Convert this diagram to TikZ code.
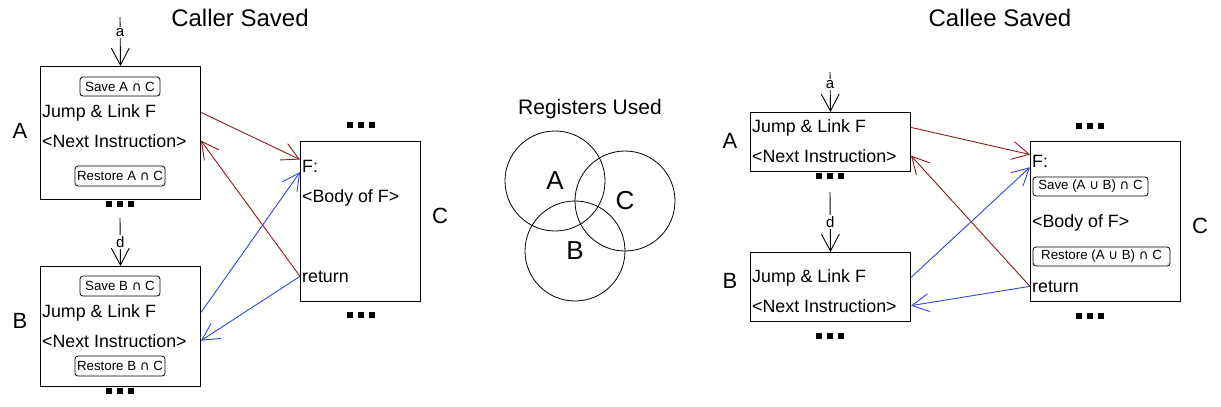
\documentclass[tikz,border=0pt]{standalone}
\usepackage{fontspec}
\setmainfont{Liberation Sans}
\newfontfamily\symfont{DejaVu Sans}
\usetikzlibrary{arrows.meta}

\definecolor{jalred}{HTML}{8B1A1A}
\definecolor{jalblue}{HTML}{2F46D8}

\newcommand{\blockdots}{\rule{6pt}{6pt}\hspace{5pt}\rule{6pt}{6pt}\hspace{5pt}\rule{6pt}{6pt}}
\newcommand{\capset}{{\symfont ∩}}
\newcommand{\cupset}{{\symfont ∪}}

\tikzset{
    codebox/.style={draw, line width=1pt, anchor=north west, inner sep=0},
    codeline/.style={anchor=base west, inner sep=0, font=\fontsize{17.8}{20}\selectfont},
    savetag/.style={draw, rounded corners=3pt, line width=0.8pt, inner sep=0,
        minimum height=19pt, font=\fontsize{13.3}{15}\selectfont},
    sidelabel/.style={anchor=base, inner sep=0, font=\fontsize{22}{24}\selectfont},
    heading/.style={anchor=base, inner sep=0, font=\fontsize{24}{28}\selectfont},
    morecode/.style={inner sep=0},
    flow/.style={line width=0.9pt, -{Straight Barb[length=17pt,width=18pt]}},
    edgelabel/.style={fill=white, inner sep=1.5pt, font=\fontsize{15}{17}\selectfont},
    regset/.style={circle, draw, line width=0.8pt, minimum size=100pt, inner sep=0,
        font=\fontsize{26}{28}\selectfont}
}

\begin{document}
\begin{tikzpicture}[x=1pt, y=-1pt]
    \useasboundingbox (0,0) rectangle (1221,407);

    % caller saved
    \node[heading] (caller) at (240,26) {Caller Saved};
    \node[codebox, minimum width=160pt, minimum height=133pt] (boxA1) at (40,66) {};
    \node[codebox, minimum width=160pt, minimum height=120pt] (boxB1) at (40,266) {};
    \node[codebox, minimum width=120pt, minimum height=160pt] (boxC1) at (300,141) {};

    \node[savetag, minimum width=80pt] (saveA1) at (120,86.5) {Save A \capset{} C};
    \node[codeline] (jumpA1) at (42,117) {Jump \& Link F};
    \node[codeline] (nextA1) at (42,147) {<Next Instruction>};
    \node[savetag, minimum width=90pt, minimum height=20pt] (restA1) at (120,176) {Restore A \capset{} C};

    \node[savetag, minimum width=80pt, minimum height=20pt] (saveB1) at (120,286) {Save B \capset{} C};
    \node[codeline] (jumpB1) at (42,317) {Jump \& Link F};
    \node[codeline] (nextB1) at (42,347) {<Next Instruction>};
    \node[savetag, minimum width=90pt, minimum height=20pt] (restB1) at (120,366) {Restore B \capset{} C};

    \node[codeline] (fC1) at (302,172) {F:};
    \node[codeline] (bodyC1) at (302,202) {<Body of F>};
    \node[codeline] (retC1) at (302,282) {return};

    \node[sidelabel] (nameA1) at (20,138) {A};
    \node[sidelabel] (nameB1) at (20,328) {B};
    \node[sidelabel] (nameC1) at (440,223) {C};

    % registers used
    \node[heading, font=\fontsize{21}{24}\selectfont] (regs) at (590,114) {Registers Used};
    \node[regset] (setA) at (555,181) {A};
    \node[regset] (setC) at (625,201) {C};
    \node[regset] (setB) at (575,251) {B};

    % callee saved
    \node[heading] (callee) at (1000,26) {Callee Saved};
    \node[codebox, minimum width=160pt, minimum height=59pt] (boxA2) at (750,112) {};
    \node[codebox, minimum width=160pt, minimum height=69pt] (boxB2) at (750,252) {};
    \node[codebox, minimum width=150pt, minimum height=160pt] (boxC2) at (1030,141) {};

    \node[codeline] (jumpA2) at (752,132) {Jump \& Link F};
    \node[codeline] (nextA2) at (752,162) {<Next Instruction>};
    \node[codeline] (jumpB2) at (752,282) {Jump \& Link F};
    \node[codeline] (nextB2) at (752,312) {<Next Instruction>};

    \node[codeline] (fC2) at (1032,167) {F:};
    \node[savetag, minimum width=115pt] (saveC2) at (1090.5,186.5) {Save (A \cupset{} B) \capset{} C};
    \node[codeline] (bodyC2) at (1032,227) {<Body of F>};
    \node[savetag, minimum width=137pt] (restC2) at (1101.5,256.5) {Restore (A \cupset{} B) \capset{} C};
    \node[codeline] (retC2) at (1032,292) {return};

    \node[sidelabel] (nameA2) at (730,148) {A};
    \node[sidelabel] (nameB2) at (730,288) {B};
    \node[sidelabel] (nameC2) at (1200,233) {C};

    % more code above and below
    \foreach \n/\p in {dotsA1/{(120,204)}, dotsB1/{(120,391)}, dotsCt1/{(360.5,125)},
            dotsCb1/{(360.5,315)}, dotsA2/{(830,175.5)}, dotsB2/{(830,335.5)},
            dotsCt2/{(1090,126)}, dotsCb2/{(1090,316)}}
        \node[morecode] (\n) at \p {\blockdots};

    % incoming control flow
    \coordinate (inA1) at (120,17);
    \coordinate (inB1) at (120,218);
    \coordinate (inA2) at (830,72);
    \coordinate (inB2) at (830,192);
    \draw[flow] (inA1) -- node[edgelabel, pos=0.32] {a} (boxA1.north);
    \draw[flow] (inB1) -- node[edgelabel, pos=0.5] {d} (boxB1.north);
    \draw[flow] (inA2) -- node[edgelabel, pos=0.32] {a} (boxA2.north);
    \draw[flow] (inB2) -- node[edgelabel, pos=0.5] {d} (boxB2.north);

    % calls and returns
    \foreach \k in {1, 2} {
        \draw[flow, jalred] (boxA\k.east |- jumpA\k) -- (boxC\k.west |- fC\k.north);
        \draw[flow, jalred] (boxC\k.west |- retC\k) -- (boxA\k.east |- nextA\k);
        \draw[flow, jalblue] (boxB\k.east |- jumpB\k) -- (boxC\k.west |- fC\k.south);
        \draw[flow, jalblue] (boxC\k.west |- retC\k) -- (boxB\k.east |- nextB\k);
    }
\end{tikzpicture}
\end{document}
